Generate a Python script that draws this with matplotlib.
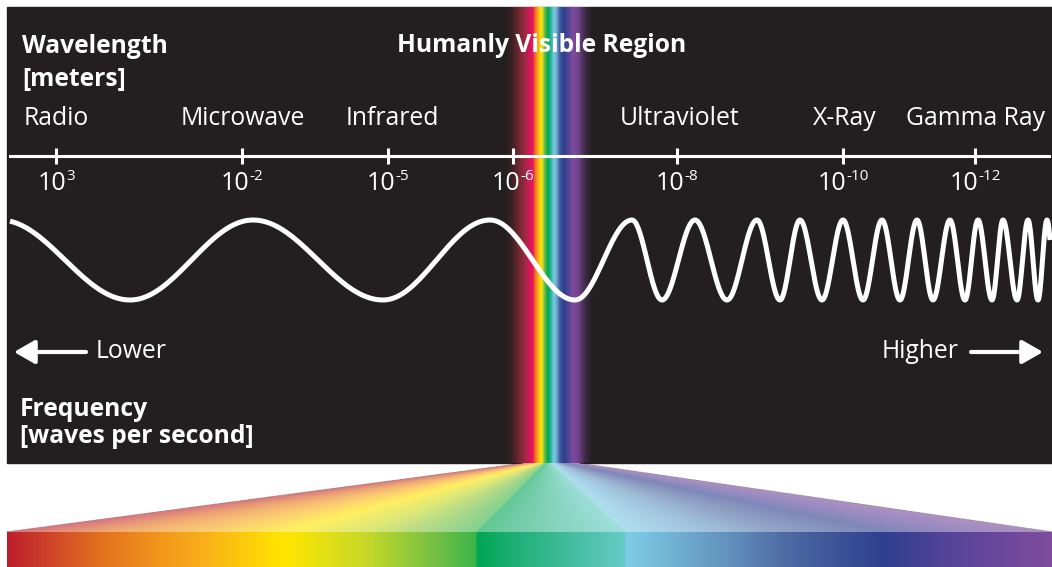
import matplotlib
matplotlib.use('Agg')
import matplotlib.pyplot as plt
import numpy as np
from matplotlib.patches import Rectangle
from matplotlib.colors import to_rgb

plt.rcParams['font.family'] = ['Open Sans', 'DejaVu Sans']

# band names and wavelength ticks
band_names = ['Radio', 'Microwave', 'Infrared', 'Ultraviolet', 'X-Ray', 'Gamma Ray']
band_x = [56, 243, 392, 680, 845, 975]
tick_x = [56, 242, 388, 513, 677, 843, 975]
tick_exp = ['3', '-2', '-5', '-6', '-8', '-10', '-12']

# wave crests / troughs (x position)
wave_x = [0, 130, 253, 383, 490, 575, 632, 662, 695, 727, 757, 780, 800, 822, 843,
          863, 882, 900, 917, 933, 950, 965, 978, 992, 1003, 1017, 1028, 1038, 1047, 1056]
wave_top, wave_bot = 220, 300

# visible strip colours (x, colour)
vis_stops = [(505, '#231f20'), (512, '#3a2224'), (520, '#7a2834'), (526, '#a32a45'),
             (529, '#d4145a'), (533, '#e6195a'), (535, '#f26a22'), (537, '#f7941d'),
             (539, '#fdc010'), (541, '#ffe600'), (543, '#c6d82c'), (545, '#5cb947'),
             (548, '#00a651'), (551, '#2bb39a'), (554, '#7ccde5'), (557, '#6aa2c8'),
             (560, '#3d5a9d'), (564, '#2e3f8f'), (568, '#4c4495'), (573, '#7f4c9e'),
             (579, '#70418a'), (585, '#3f2b46'), (592, '#231f20')]

# bottom spectrum bar colours (x, colour)
bar_stops = [(7, '#be1e2d'), (50, '#d0442a'), (100, '#e2701f'), (150, '#f0901d'),
             (200, '#f9ad1a'), (285, '#ffe600'), (367, '#c6d828'), (433, '#77c043'),
             (476, '#3bb54a'), (477, '#00a651'), (520, '#22b07a'), (625, '#66cbc6'),
             (626, '#7ecde6'), (720, '#6496c0'), (787, '#4e6aa3'), (883, '#2e3f8f'),
             (953, '#58449a'), (1052, '#7f4c9e')]

# fan wedges: edges at strip bottom and at bar top
fan_top = [522, 533, 537, 541, 545, 552, 557, 565, 580]
fan_bot = [7, 117, 283, 373, 477, 626, 723, 883, 1052]


def gradient(stops, xs):
    sx = [s[0] for s in stops]
    cols = np.array([to_rgb(s[1]) for s in stops])
    return np.stack([np.interp(xs, sx, cols[:, i]) for i in range(3)], axis=-1)


fig = plt.figure(figsize=(10.52, 5.67), dpi=100)
ax = fig.add_axes([0, 0, 1, 1])
ax.set_xlim(0, 1052)
ax.set_ylim(567, 0)
ax.axis('off')
fig.patch.set_facecolor('white')

panel = Rectangle((7, 7), 1045, 456, color='#231f20', zorder=0)
ax.add_patch(panel)

# visible strip
vx = np.linspace(505, 592, 600)
ax.imshow(gradient(vis_stops, vx)[None, :, :], extent=(505, 592, 463, 7),
          aspect='auto', interpolation='bilinear', zorder=1)

# bottom bar
bx = np.linspace(7, 1052, 2090)
ax.imshow(gradient(bar_stops, bx)[None, :, :], extent=(7, 1052, 567, 532),
          aspect='auto', interpolation='bilinear', zorder=1)

# fan
fy0, fy1 = 463, 532
H, W = 140, 2090
ys = np.linspace(fy0, fy1, H)
xs = np.linspace(7, 1052, W)
img = np.zeros((H, W, 4))
for r, y in enumerate(ys):
    t = (y - fy0) / (fy1 - fy0)
    edges = [a + (b - a) * t for a, b in zip(fan_top, fan_bot)]
    for k in range(len(edges) - 1):
        m = (xs >= edges[k]) & (xs < edges[k + 1])
        if not m.any():
            continue
        u = (xs[m] - edges[k]) / (edges[k + 1] - edges[k])
        X = fan_bot[k] + u * (fan_bot[k + 1] - fan_bot[k])
        c = gradient(bar_stops, X)
        img[r, m, :3] = c * 0.62 + 0.38
        img[r, m, 3] = 1
ax.imshow(img, extent=(7, 1052, fy1, fy0), aspect='auto', interpolation='bilinear', zorder=1)

# wave
wx, wy = [], []
for i in range(len(wave_x) - 1):
    t = np.linspace(0, 1, 40)
    y0 = wave_top if i % 2 == 0 else wave_bot
    y1 = wave_bot if i % 2 == 0 else wave_top
    wx.append(wave_x[i] + (wave_x[i + 1] - wave_x[i]) * t)
    wy.append(y0 + (y1 - y0) * (1 - np.cos(np.pi * t)) / 2)
wx = np.concatenate(wx)
wy = np.concatenate(wy)
keep = (wx >= 7) & (wx <= 1050)
ax.plot(wx[keep], wy[keep], color='white', lw=3.6, solid_capstyle='butt', zorder=3)

# wavelength axis
ax.plot([10, 1049], [156, 156], color='white', lw=2.2, zorder=3)
ax.vlines(tick_x, 148, 164, color='white', lw=2.2, zorder=3)

# tick labels: "10" plus a small exponent, centred on the tick afterwards
pairs = []
for x, e in zip(tick_x, tick_exp):
    base = ax.text(x, 190, '10', color='white', fontsize=18, ha='left', va='baseline', zorder=4)
    sup = ax.text(x, 180, e, color='white', fontsize=11, ha='left', va='baseline', zorder=4)
    pairs.append((x, base, sup))
fig.canvas.draw()
r = fig.canvas.get_renderer()
for x, base, sup in pairs:
    wb = base.get_window_extent(r).width
    ws = sup.get_window_extent(r).width
    left = x - (wb + ws) / 2
    base.set_x(left)
    sup.set_x(left + wb)

for x, name in zip(band_x, band_names):
    ax.text(x, 125, name, color='white', fontsize=17.8, ha='center', va='baseline', zorder=4)

ax.text(22, 53, 'Wavelength', color='white', fontsize=17.7, fontweight='bold', va='baseline')
ax.text(22, 86, '[meters]', color='white', fontsize=17.7, fontweight='bold', va='baseline')
ax.text(542, 52, 'Humanly Visible Region', color='white', fontsize=17.7, fontweight='bold',
        ha='center', va='baseline', zorder=4)
ax.text(20, 416, 'Frequency', color='white', fontsize=17.7, fontweight='bold', va='baseline')
ax.text(20, 443, '[waves per second]', color='white', fontsize=17.7, fontweight='bold', va='baseline')

# frequency arrows
ax.annotate('', xy=(14, 352), xytext=(86, 352),
            arrowprops=dict(arrowstyle='-|>,head_length=0.7,head_width=0.4', color='white',
                            lw=3, shrinkA=0, shrinkB=0, mutation_scale=18))
ax.text(96, 358, 'Lower', color='white', fontsize=17.8, va='baseline')
ax.annotate('', xy=(1043, 352), xytext=(971, 352),
            arrowprops=dict(arrowstyle='-|>,head_length=0.7,head_width=0.4', color='white',
                            lw=3, shrinkA=0, shrinkB=0, mutation_scale=18))
ax.text(959, 358, 'Higher', color='white', fontsize=17.8, ha='right', va='baseline')

fig.savefig('out.png', dpi=100, facecolor='white')
